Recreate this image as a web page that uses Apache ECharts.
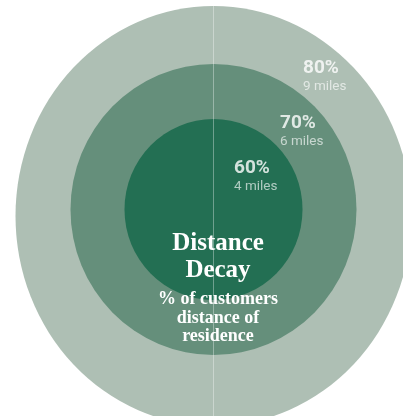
<!DOCTYPE html>
<html><head><meta charset="utf-8">
<script src="https://cdn.jsdelivr.net/npm/echarts@6/dist/echarts.min.js"></script>
<style>html,body{margin:0;padding:0;background:#fff}#c{width:403px;height:416px}</style>
</head><body><div id="c"></div>
<script>
// ---- data ----
const rings = ['80% ring', '70% ring', '60% ring'];
const shares = [80, 70, 60];          // % of customers
const distances = [9, 6, 4];          // miles
const titleLines = ['Distance', 'Decay'];
const subtitleLines = ['% of customers', 'distance of', 'residence'];

// ---- styling / layout (not data) ----
const ringColors = ['#aebfb4', '#658f7b', '#236f53'];
const ringSizes = [[396, 420], [286, 291], [178, 181]];
const ringOffsets = [[0, 6.5], [0, 0], [0, 0]];
const labelOffsets = [[89.5, -131.5], [66.5, -77], [20.5, -31.5]];
const centre = [0, 0];

const chart = echarts.init(document.getElementById('c'), null, {renderer: 'canvas'});
const ringSeries = rings.map((name, i) => ({
  type: 'scatter', name: name, silent: true, z: 2 + i,
  data: [centre], symbol: 'circle',
  symbolSize: ringSizes[i], symbolOffset: ringOffsets[i],
  itemStyle: {color: ringColors[i], opacity: 1},
  emphasis: {disabled: true}
}));
const labelSeries = {
  type: 'scatter', name: 'labels', silent: true, z: 10,
  symbolSize: 0,
  data: shares.map((s, i) => ({
    value: centre,
    label: {
      show: true, position: 'inside', align: 'left', verticalAlign: 'middle',
      offset: labelOffsets[i],
      formatter: '{p|' + s + '%}\n{m|' + distances[i] + ' miles}',
      rich: {
        p: {fontFamily: 'Roboto', fontWeight: 'bold', fontSize: 19, lineHeight: 18, color: '#ffffff'},
        m: {fontFamily: 'Roboto', fontSize: 13.5, lineHeight: 19, color: 'rgba(255,255,255,0.8)'}
      }
    }
  })),
  markLine: {
    silent: true, symbol: ['none', 'none'], label: {show: false},
    lineStyle: {color: 'rgba(255,255,255,0.35)', width: 1, type: 'solid'},
    emphasis: {disabled: true},
    data: [{xAxis: 0}]
  }
};

chart.setOption({
  animation: false,
  backgroundColor: '#ffffff',
  title: [
    {text: titleLines.join('\n'), left: 218, top: 230, padding: 0, textAlign: 'center',
     textStyle: {fontFamily: 'Liberation Serif', fontWeight: 'bold', fontSize: 25, lineHeight: 27, color: '#ffffff'}, z: 12},
    {text: subtitleLines.join('\n'), left: 218, top: 290.5, padding: 0, textAlign: 'center',
     textStyle: {fontFamily: 'Liberation Serif', fontWeight: 'bold', fontSize: 18, lineHeight: 18.5, color: '#ffffff'}, z: 12}
  ],
  grid: {left: 24, right: 0, top: 3, bottom: 0},
  xAxis: {type: 'value', min: -1, max: 1, show: false},
  yAxis: {type: 'value', min: -1, max: 1, show: false},
  series: ringSeries.concat([labelSeries])
});
</script></body></html>
